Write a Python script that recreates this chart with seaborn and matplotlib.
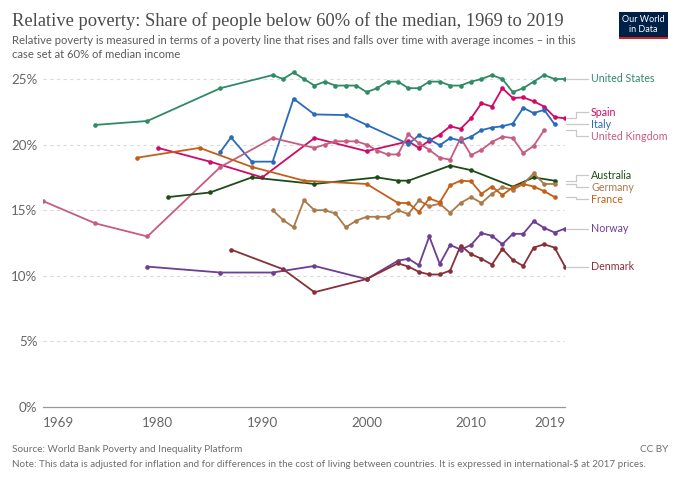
import matplotlib
matplotlib.use("Agg")
import matplotlib.pyplot as plt
import seaborn as sns
import pandas as pd
from matplotlib.patches import Rectangle

# ---------------- data ----------------
countries = ["United States", "Spain", "Italy", "United Kingdom", "Australia",
             "Germany", "France", "Norway", "Denmark"]

us_years = [1974, 1979, 1986, 1991, 1992, 1993, 1994, 1995, 1996, 1997, 1998, 1999,
            2000, 2001, 2002, 2003, 2004, 2005, 2006, 2007, 2008, 2009, 2010, 2011,
            2012, 2013, 2014, 2015, 2016, 2017, 2018, 2019]
us_vals = [21.5, 21.8, 24.3, 25.3, 25.0, 25.5, 25.0, 24.5, 24.8, 24.5, 24.5, 24.5,
           24.0, 24.3, 24.8, 24.8, 24.3, 24.3, 24.8, 24.8, 24.5, 24.5, 24.8, 25.0,
           25.3, 25.0, 24.0, 24.3, 24.8, 25.3, 25.0, 25.0]

spain_years = [1980, 1985, 1990, 1995, 2000] + list(range(2004, 2020))
spain_vals = [19.75, 18.7, 17.5, 20.5, 19.5,
              20.25, 19.75, 20.3, 20.75, 21.4, 21.2, 22.0, 23.15, 22.9, 24.3, 23.55,
              23.6, 23.3, 22.9, 22.1, 22.0]

italy_years = [1986, 1987, 1989, 1991, 1993, 1995, 1998, 2000] + list(range(2004, 2019))
italy_vals = [19.45, 20.55, 18.7, 18.7, 23.5, 22.3, 22.25, 21.5,
              20.05, 20.7, 20.4, 19.95, 20.5, 20.3, 20.6, 21.1, 21.3, 21.4, 21.6,
              22.8, 22.4, 22.65, 21.55]

uk_years = [1969, 1974, 1979, 1986, 1991] + list(range(1995, 2018))
uk_vals = [15.7, 14.0, 13.0, 18.3, 20.5,
           19.75, 20.0, 20.25, 20.25, 20.25, 20.0, 19.55, 19.25, 19.25, 20.8, 20.1,
           19.6, 19.0, 18.85, 20.5, 19.2, 19.6, 20.2, 20.6, 20.5, 19.35, 19.9, 21.1]

aus_years = [1981, 1985, 1989, 1995, 2001, 2003, 2004, 2008, 2010, 2014, 2016, 2018]
aus_vals = [16.0, 16.35, 17.5, 17.0, 17.5, 17.25, 17.25, 18.4, 18.05, 16.8, 17.5, 17.25]

ger_years = list(range(1991, 2019))
ger_vals = [15.0, 14.25, 13.7, 15.75, 15.0, 15.0, 14.75, 13.7, 14.2, 14.5, 14.5, 14.5,
            15.0, 14.7, 15.75, 15.3, 15.5, 14.8, 15.55, 16.0, 15.55, 16.25, 16.75,
            16.55, 17.0, 17.8, 17.0, 17.0]

fra_years = [1978, 1984, 1989, 1994, 2000] + list(range(2003, 2019))
fra_vals = [19.0, 19.75, 18.3, 17.25, 17.0,
            15.55, 15.55, 14.85, 15.9, 15.6, 16.9, 17.25, 17.2, 16.25, 16.8, 16.15,
            16.75, 17.0, 16.8, 16.45, 16.0]

nor_years = [1979, 1986, 1991, 1995, 2000] + list(range(2003, 2020))
nor_vals = [10.7, 10.25, 10.25, 10.75, 9.75,
            11.15, 11.3, 10.8, 13.0, 10.9, 12.35, 12.0, 12.35, 13.25, 13.05, 12.4,
            13.2, 13.2, 14.15, 13.65, 13.3, 13.6]

den_years = [1987, 1992, 1995, 2000] + list(range(2003, 2020))
den_vals = [12.0, 10.5, 8.75, 9.75,
            10.95, 10.7, 10.3, 10.1, 10.1, 10.4, 12.3, 11.65, 11.3, 10.85, 12.05,
            11.2, 10.75, 12.15, 12.4, 12.15, 10.7]

series = {
    "United States": (us_years, us_vals),
    "Spain": (spain_years, spain_vals),
    "Italy": (italy_years, italy_vals),
    "United Kingdom": (uk_years, uk_vals),
    "Australia": (aus_years, aus_vals),
    "Germany": (ger_years, ger_vals),
    "France": (fra_years, fra_vals),
    "Norway": (nor_years, nor_vals),
    "Denmark": (den_years, den_vals),
}

colors = {
    "United States": "#2f8a66",
    "Spain": "#CF0A66",
    "Italy": "#286BBB",
    "United Kingdom": "#C65C80",
    "Australia": "#1D4C16",
    "Germany": "#A97A4A",
    "France": "#C2601A",
    "Norway": "#6D3E91",
    "Denmark": "#883039",
}

x_ticks = [1969, 1980, 1990, 2000, 2010, 2019]
y_ticks = [0, 5, 10, 15, 20, 25]

rows = []
for c in countries:
    yrs, vals = series[c]
    for yr, v in zip(yrs, vals):
        rows.append({"country": c, "year": yr, "value": v})
df = pd.DataFrame(rows)

# ---------------- figure ----------------
sns.set_theme(style="white")
plt.rcParams["font.family"] = ["Lato", "DejaVu Sans"]

W, H = 680, 480
fig = plt.figure(figsize=(W / 100, H / 100), dpi=100)
renderer = fig.canvas.get_renderer()

ax_left, ax_right, ax_bottom = 43, 565, 407
px_per_pct = 13.12
ymax = 26
ax_top = ax_bottom - ymax * px_per_pct
ax = fig.add_axes([ax_left / W, 1 - ax_bottom / H, (ax_right - ax_left) / W,
                   (ax_bottom - ax_top) / H])

for v in y_ticks[1:]:
    ax.axhline(v, color="#dadada", lw=0.8, ls=(0, (3, 3)), zorder=0)

sns.lineplot(data=df, x="year", y="value", hue="country", hue_order=countries,
             palette=colors, marker="o", markersize=3.3, markeredgewidth=0,
             linewidth=1.3, legend=False, estimator=None, ax=ax, zorder=3)

ax.set_xlim(1969, 2019)
ax.set_ylim(0, ymax)
ax.set_xlabel("")
ax.set_ylabel("")
for s in ["top", "right", "left"]:
    ax.spines[s].set_visible(False)
ax.spines["bottom"].set_color("#999999")
ax.spines["bottom"].set_linewidth(0.9)

ax.set_yticks(y_ticks)
ax.set_yticklabels([f"{v}%" for v in y_ticks])
ax.set_xticks(x_ticks)
ax.set_xticklabels([str(t) for t in x_ticks])
ax.tick_params(axis="y", length=0, pad=4, labelsize=9.6, labelcolor="#666666")
ax.tick_params(axis="x", length=4, width=0.9, color="#999999", pad=3,
               labelsize=9.6, labelcolor="#666666", direction="out")
xl = ax.get_xticklabels()
xl[0].set_ha("left")
xl[-1].set_ha("right")


def fit(t, width):
    """scale a text's font so that it spans the given width in pixels"""
    w = t.get_window_extent(renderer).width
    t.set_fontsize(t.get_fontsize() * width / w)
    return t


# ---------------- end labels with connectors ----------------
ends = {c: series[c][1][-1] for c in countries}
gap = 12.2 / px_per_pct
order = sorted(countries, key=lambda c: -ends[c])
groups = [[c] for c in order]


def positions(group):
    center = sum(ends[c] for c in group) / len(group)
    n = len(group)
    return [center + gap * ((n - 1) / 2 - i) for i in range(n)]


changed = True
while changed:
    changed = False
    for i in range(len(groups) - 1):
        up = positions(groups[i])
        lo = positions(groups[i + 1])
        if up[-1] - lo[0] < gap:
            groups[i] = groups[i] + groups[i + 1]
            del groups[i + 1]
            changed = True
            break

label_pos = {}
for g in groups:
    for c, p in zip(g, positions(g)):
        label_pos[c] = p

trans = ax.get_yaxis_transform()
axw = ax_right - ax_left
probe = ax.text(0, 0, "United Kingdom", fontsize=10, transform=trans)
fit(probe, 76)
label_size = probe.get_fontsize()
probe.remove()
for c in countries:
    x0 = 1 + 1 / axw
    xm = 1 + 11 / axw
    x1 = 1 + 23 / axw
    ax.plot([x0, xm, xm, x1], [ends[c], ends[c], label_pos[c], label_pos[c]],
            transform=trans, color="#c8c8c8", lw=0.9, clip_on=False, zorder=1)
    ax.text(1 + 26 / axw, label_pos[c], c, transform=trans, color=colors[c],
            fontsize=label_size, va="center", ha="left", clip_on=False)

# ---------------- titles, footer, logo ----------------
def ftext(x, y, s, **kw):
    return fig.text(x / W, 1 - y / H, s, **kw)


fit(ftext(12, 21, "Relative poverty: Share of people below 60% of the median, 1969 to 2019",
          family=["Liberation Serif", "DejaVu Serif"], fontsize=14, color="#4a4a4a",
          va="center", ha="left"), 553)
sub = fit(ftext(12, 41, "Relative poverty is measured in terms of a poverty line that rises "
                "and falls over time with average incomes – in this", fontsize=9,
                color="#5b5b5b", va="center", ha="left"), 567)
ftext(12, 54, "case set at 60% of median income", fontsize=sub.get_fontsize(),
      color="#5b5b5b", va="center", ha="left")

src = fit(ftext(12, 450, "Source: World Bank Poverty and Inequality Platform", fontsize=8,
                color="#6e6e6e", va="center", ha="left"), 231)
fit(ftext(12, 464, "Note: This data is adjusted for inflation and for differences in the "
          "cost of living between countries. It is expressed in international-$ at 2017 "
          "prices.", fontsize=8, color="#6e6e6e", va="center", ha="left"), 636)
ftext(668, 450, "CC BY", fontsize=src.get_fontsize(), color="#6e6e6e", va="center",
      ha="right")

fig.patches.append(Rectangle((619 / W, 1 - 39 / H), 49 / W, 27 / H,
                             transform=fig.transFigure, facecolor="#002147",
                             edgecolor="none"))
fig.patches.append(Rectangle((619 / W, 1 - 39 / H), 49 / W, 2.2 / H,
                             transform=fig.transFigure, facecolor="#ce261e",
                             edgecolor="none"))
fit(ftext(643.5, 24.5, "Our World\nin Data", fontsize=7, color="white", va="center",
          ha="center", linespacing=1.0), 43)

fig.savefig("out.png", dpi=100)
